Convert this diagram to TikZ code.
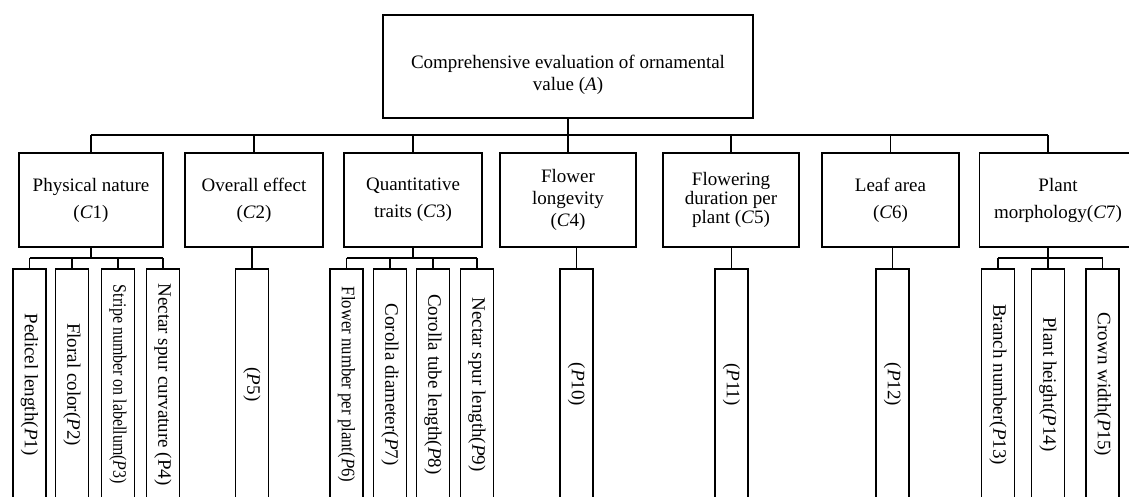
\documentclass[tikz,border=0pt]{standalone}
\usepackage{fontspec}
\setmainfont{Liberation Serif}
\newcommand{\vtext}[1]{\rotatebox{-90}{#1}}

\begin{document}
\begin{tikzpicture}[x=0.5pt,y=-0.5pt,line width=0.8pt,
	font=\fontsize{9.5}{11}\selectfont,
	abox/.style={draw,align=center,minimum width=185pt,minimum height=51.5pt},
	cbox/.style={draw,align=center,minimum width=69pt,minimum height=47pt,inner sep=1pt},
	pbox/.style={draw,minimum width=16.5pt,minimum height=115.5pt,inner sep=0pt}]
	\useasboundingbox (0,0) rectangle (1129,497);
	\clip (0,0) rectangle (1129,497);
	\coordinate (bus) at (0,135);
	\coordinate (sub) at (0,258);
	% goal
	\node[abox] (A) at (568,66.5) {\rule{0pt}{15pt}Comprehensive evaluation of ornamental\\value (\textit{A})};
	% criteria
	\node[cbox,minimum width=72pt] (C1) at (91,200) {Physical nature\\[2.5pt](\textit{C}1)};
	\node[cbox] (C2) at (254,200) {Overall effect\\[2.5pt](\textit{C}2)};
	\node[cbox] (C3) at (413,200) {Quantitative\\[2.5pt]traits (\textit{C}3)};
	\node[cbox,minimum width=68pt] (C4) at (568,200) {Flower\\longevity\\(\textit{C}4)};
	\node[cbox,minimum width=68pt,font=\fontsize{9.5}{8.5}\selectfont] (C5) at (731,200) {Flowering\\duration per\\plant (\textit{C}5)};
	\node[cbox,minimum width=68.5pt] (C6) at (890.5,200) {Leaf area\\[2.5pt](\textit{C}6)};
	\node[cbox,minimum width=78.5pt] (C7) at (1058,200) {Plant\\[2.5pt]morphology(\textit{C}7)};
	% indicators
	\node[pbox] (P1) at (29.5,384.5) {\vtext{Pedicel length(\textit{P}1)}};
	\node[pbox] (P2) at (72,384.5) {\vtext{Floral color(\textit{P}2)}};
	\node[pbox] (P3) at (118,384.5) {\vtext{\scalebox{0.84}[1]{Stripe number on labellum(\textit{P}3)}}};
	\node[pbox] (P4) at (163,384.5) {\vtext{Nectar spur curvature (P4)}};
	\node[pbox] (P5) at (252,384.5) {\vtext{(\textit{P}5)}};
	\node[pbox] (P6) at (346.5,384.5) {\vtext{\scalebox{0.88}[1]{Flower number per plant(\textit{P}6)}}};
	\node[pbox] (P7) at (390,384.5) {\vtext{Corolla diameter(\textit{P}7)}};
	\node[pbox] (P8) at (433,384.5) {\vtext{Corolla tube length(\textit{P}8)}};
	\node[pbox] (P9) at (477,384.5) {\vtext{Nectar spur length(\textit{P}9)}};
	\node[pbox] (P10) at (576.5,384.5) {\vtext{(\textit{P}10)}};
	\node[pbox] (P11) at (731.5,384.5) {\vtext{(\textit{P}11)}};
	\node[pbox] (P12) at (892.5,384.5) {\vtext{(\textit{P}12)}};
	\node[pbox] (P13) at (998,384.5) {\vtext{Branch number(\textit{P}13)}};
	\node[pbox] (P14) at (1048,384.5) {\vtext{Plant height(\textit{P}14)}};
	\node[pbox] (P15) at (1102.5,384.5) {\vtext{Crown width(\textit{P}15)}};
	% goal to criteria
	\draw (A.south) -- (A.south |- C4.north);
	\draw (C1.north |- bus) -- (P14.north |- bus);
	\foreach \c in {C1,C2,C3,C5,C6}
		\draw (\c.north) -- (\c.north |- bus);
	\draw (P14.north |- C7.north) -- (P14.north |- bus);
	% criteria to indicators
	\draw (C1.south) -- (C1.south |- sub);
	\draw (P1.north |- sub) -- (P4.north |- sub);
	\foreach \p in {P1,P2,P3,P4}
		\draw (\p.north) -- (\p.north |- sub);
	\draw (C3.south) -- (C3.south |- sub);
	\draw (P6.north |- sub) -- (P9.north |- sub);
	\foreach \p in {P6,P7,P8,P9}
		\draw (\p.north) -- (\p.north |- sub);
	\draw (P14.north |- C7.south) -- (P14.north |- sub);
	\draw (P13.north |- sub) -- (P15.north |- sub);
	\foreach \p in {P13,P14,P15}
		\draw (\p.north) -- (\p.north |- sub);
	\draw (P5.north |- C2.south) -- (P5.north);
	\draw (P10.north |- C4.south) -- (P10.north);
	\draw (P11.north |- C5.south) -- (P11.north);
	\draw (P12.north |- C6.south) -- (P12.north);
\end{tikzpicture}
\end{document}
